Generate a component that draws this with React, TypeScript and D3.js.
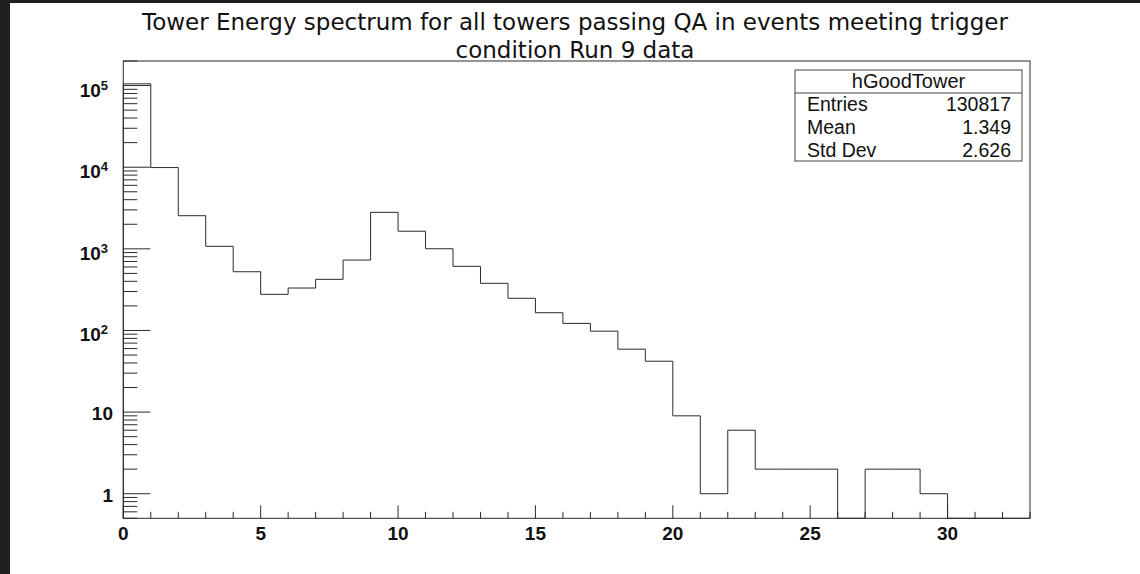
import React from "react";
import * as d3 from "d3";

// Histogram hGoodTower: tower energy, 33 unit-width bins from 0 to 33
const binEdges: number[] = d3.range(0, 34);
const binCounts: number[] = [
  105000, 9900, 2545, 1074, 524, 277, 331, 423, 729, 2800,
  1644, 1002, 611, 378, 248, 165, 122, 98, 59, 42,
  9, 1, 6, 2, 2, 2, 0, 2, 2, 1,
  0, 0, 0,
];

const titleLines: string[] = [
  "Tower Energy spectrum for all towers passing QA in events meeting trigger",
  "condition Run 9 data",
];

const statsName = "hGoodTower";
const statsLabels: string[] = ["Entries", "Mean", "Std Dev"];
const statsValues: string[] = ["130817", "1.349", "2.626"];

const xMajorTicks: number[] = [0, 5, 10, 15, 20, 25, 30];
const yMajorExponents: number[] = [0, 1, 2, 3, 4, 5];

const W = 1140;
const H = 574;
const frame = { left: 123.3, right: 1030, top: 61, bottom: 518.3 };
const yMin = 0.5;
const yMax = 2e5;

export default function App() {
  const x = d3.scaleLinear().domain([0, 33]).range([frame.left, frame.right]);
  const y = d3.scaleLog().domain([yMin, yMax]).range([frame.bottom, frame.top]);

  // Step outline of the histogram; empty bins drop to the axis
  const steps: [number, number][] = [[0, yMin]];
  binCounts.forEach((c, i) => {
    const v = c > 0 ? c : yMin;
    steps.push([binEdges[i], v]);
    steps.push([binEdges[i + 1], v]);
  });
  steps.push([33, yMin]);
  const outline = d3
    .line<[number, number]>()
    .x((d) => x(d[0]))
    .y((d) => y(d[1]))(steps) as string;

  const xMinorTicks = d3.range(0, 34).filter((v) => v % 5 !== 0);
  const yMinorTicks: number[] = [];
  for (let e = -1; e <= 5; e++) {
    for (let k = 2; k <= 9; k++) {
      const v = k * Math.pow(10, e);
      if (v >= yMin && v <= yMax) yMinorTicks.push(v);
    }
  }

  const lineColor = "#2a2a2a";
  const labelFont = "'Liberation Sans', Arial, sans-serif";

  const box = { left: 795, right: 1022, top: 70, header: 93, bottom: 161 };

  return (
    <svg
      width={W}
      height={H}
      style={{ position: "absolute", left: 0, top: 0, background: "#fff" }}
    >
      <rect x={0} y={0} width={W} height={H} fill="#ffffff" />
      <rect x={0} y={0} width={W} height={3} fill="#202020" />
      <rect x={0} y={0} width={10} height={H} fill="#202020" />

      {/* title */}
      <g fontFamily="'DejaVu Sans', sans-serif" fontSize={23} fill="#111" textAnchor="middle">
        <text x={575} y={30}>{titleLines[0]}</text>
        <text x={575} y={58}>{titleLines[1]}</text>
      </g>

      {/* frame */}
      <rect
        x={frame.left}
        y={frame.top}
        width={frame.right - frame.left}
        height={frame.bottom - frame.top}
        fill="none"
        stroke={lineColor}
        strokeWidth={1}
      />

      {/* ticks */}
      <g stroke={lineColor} strokeWidth={1}>
        {xMajorTicks.map((t) => (
          <line key={"xM" + t} x1={x(t)} x2={x(t)} y1={frame.bottom} y2={frame.bottom - 13} />
        ))}
        {xMinorTicks.map((t) => (
          <line key={"xm" + t} x1={x(t)} x2={x(t)} y1={frame.bottom} y2={frame.bottom - 6.5} />
        ))}
        {yMajorExponents.map((e) => (
          <line
            key={"yM" + e}
            x1={frame.left}
            x2={frame.left + 27}
            y1={y(Math.pow(10, e))}
            y2={y(Math.pow(10, e))}
          />
        ))}
        {yMinorTicks.map((t) => (
          <line key={"ym" + t} x1={frame.left} x2={frame.left + 14} y1={y(t)} y2={y(t)} />
        ))}
      </g>

      {/* x labels */}
      <g fontFamily={labelFont} fontWeight="bold" fontSize={19} fill="#111" textAnchor="middle">
        {xMajorTicks.map((t) => (
          <text key={"xl" + t} x={x(t)} y={540}>
            {t}
          </text>
        ))}
      </g>

      {/* y labels */}
      <g fontFamily={labelFont} fontWeight="bold" fontSize={19} fill="#111" textAnchor="end">
        {yMajorExponents.map((e) => {
          const ty = y(Math.pow(10, e));
          if (e === 0) return <text key="yl0" x={113} y={ty + 8.4}>1</text>;
          if (e === 1) return <text key="yl1" x={113} y={ty + 8.4}>10</text>;
          return (
            <text key={"yl" + e} x={108} y={ty + 11}>
              10
              <tspan dy={-7} fontSize={13}>
                {e}
              </tspan>
            </text>
          );
        })}
      </g>

      {/* histogram */}
      <path d={outline} fill="none" stroke={lineColor} strokeWidth={1} />

      {/* statistics box */}
      <g>
        <rect
          x={box.left}
          y={box.top}
          width={box.right - box.left}
          height={box.bottom - box.top}
          fill="#fff"
          stroke="#444"
          strokeWidth={1}
        />
        <line x1={box.left} x2={box.right} y1={box.header} y2={box.header} stroke="#444" />
        <g fontFamily={labelFont} fill="#111">
          <text
            x={(box.left + box.right) / 2}
            y={box.header - 5}
            textAnchor="middle"
            fontSize={20}
          >
            {statsName}
          </text>
          {statsLabels.map((l, i) => (
            <g key={l} fontSize={19.5}>
              <text x={box.left + 12} y={box.header + 18 + i * 23}>
                {l}
              </text>
              <text x={box.right - 11} y={box.header + 18 + i * 23} textAnchor="end">
                {statsValues[i]}
              </text>
            </g>
          ))}
        </g>
      </g>
    </svg>
  );
}
